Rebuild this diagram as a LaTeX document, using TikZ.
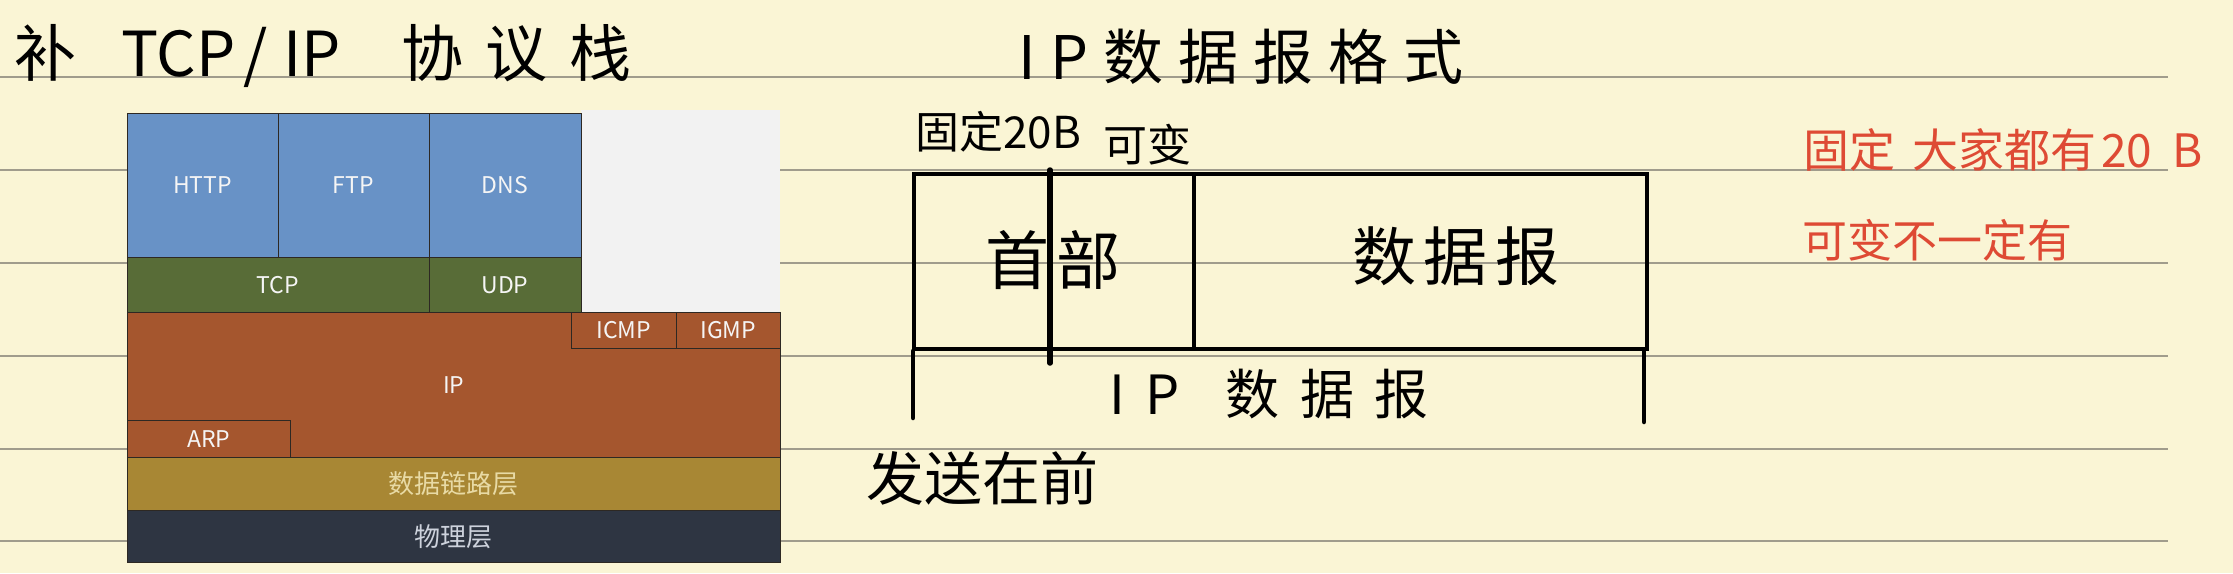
\documentclass[tikz,border=0pt]{standalone}
\usepackage{fontspec}
\setmainfont{Noto Sans CJK SC}
\definecolor{paper}{RGB}{250,245,213}
\definecolor{rule}{RGB}{160,156,140}
\definecolor{appblue}{RGB}{104,146,198}
\definecolor{tpgreen}{RGB}{88,108,55}
\definecolor{iporange}{RGB}{165,86,46}
\definecolor{dlgold}{RGB}{168,135,52}
\definecolor{phynavy}{RGB}{46,53,66}
\definecolor{blankgray}{RGB}{242,242,242}
\definecolor{inkred}{RGB}{222,74,52}
\definecolor{cellline}{RGB}{45,40,35}
\definecolor{dltext}{RGB}{232,218,165}
\definecolor{phytext}{RGB}{205,210,220}
\begin{document}
\begin{tikzpicture}[x=1pt,y=-1pt,
  hand/.style={inner sep=0pt, text=black},
  redhand/.style={inner sep=0pt, text=inkred, anchor=west},
  cell/.style={draw=cellline, line width=1pt, inner sep=0pt, anchor=north west, text=white!96!black, font=\fontsize{23}{23}\selectfont},
  cnlabel/.style={font=\fontsize{26}{26}\selectfont},
  pbox/.style={draw=black, line width=3.8pt, inner sep=0pt, anchor=north west, minimum height=175pt},
  penstroke/.style={line width=4.5pt, line cap=round},
  ruleline/.style={draw=rule, line width=2pt}]
\fill[paper] (0,0) rectangle (2233,573);
\useasboundingbox (0,0) rectangle (2233,573);
\foreach \yy in {76.7,170,263,355.5,448.5,541} \draw[ruleline] (0,\yy) -- (2168,\yy);

% ---- TCP/IP stack ----
\node[fill=blankgray, inner sep=0pt, anchor=north west, minimum width=199.5pt, minimum height=201.7pt] (blank) at (580.5,110) {};
\node[cell, fill=appblue, minimum width=151pt, minimum height=144.3pt] (http) at (126.5,112.7) {HTTP};
\node[cell, fill=appblue, minimum width=151pt, minimum height=144.3pt] (ftp) at (277.5,112.7) {FTP};
\node[cell, fill=appblue, minimum width=152pt, minimum height=144.3pt] (dns) at (428.5,112.7) {DNS};
\node[cell, fill=tpgreen, minimum width=302pt, minimum height=54.7pt] (tcp) at (126.5,257) {TCP};
\node[cell, fill=tpgreen, minimum width=152pt, minimum height=54.7pt] (udp) at (428.5,257) {UDP};
\node[cell, fill=iporange, minimum width=653.5pt, minimum height=145pt] (ip) at (126.5,311.7) {IP};
\node[cell, fill=iporange, minimum width=104.5pt, minimum height=36.3pt] (icmp) at (571,311.7) {ICMP};
\node[cell, fill=iporange, minimum width=104.5pt, minimum height=36.3pt] (igmp) at (675.5,311.7) {IGMP};
\node[cell, fill=iporange, minimum width=163.5pt, minimum height=36.7pt] (arp) at (126.5,420) {ARP};
\node[cell, cnlabel, fill=dlgold, text=dltext, minimum width=653.5pt, minimum height=53.3pt] (dl) at (126.5,456.7) {数据链路层};
\node[cell, cnlabel, fill=phynavy, text=phytext, minimum width=653.5pt, minimum height=52pt] (phy) at (126.5,510) {物理层};

% ---- handwritten titles ----
\node[hand, anchor=west, font=\fontsize{62}{62}\selectfont] (title) at (14,56) {补\hspace{45pt}TCP\hspace{8pt}/\hspace{16pt}IP\hspace{60pt}协\hspace{22pt}议\hspace{22pt}栈};
\node[hand, anchor=west, font=\fontsize{60}{60}\selectfont\addfontfeature{LetterSpace=25}] (fmt) at (1018,57) {IP数据报格式};

% ---- IP datagram ----
\node[hand, anchor=west, font=\fontsize{44}{44}\selectfont] (fixed) at (915,132) {固定20B};
\node[hand, anchor=west, font=\fontsize{44}{44}\selectfont] (var) at (1103,145) {可变};
\node[pbox, minimum width=280pt] (hdr) at (912,172) {};
\node[pbox, minimum width=453pt] (dat) at (1192,172) {};
\node[hand, font=\fontsize{64}{64}\selectfont\addfontfeature{LetterSpace=10}] (hdrtext) at (1053,260) {首部};
\node[hand, font=\fontsize{64}{64}\selectfont\addfontfeature{LetterSpace=12}] (dattext) at (1456,256) {数据报};
\coordinate (splittop) at (1050,170);
\coordinate (splitbot) at (1050,363);
\draw[penstroke, line width=5.5pt] (splittop) -- (splitbot);
\coordinate (ltickA) at (913,351);
\coordinate (ltickB) at (913,418);
\coordinate (rtickA) at (1644,351);
\coordinate (rtickB) at (1644,422);
\draw[penstroke] (ltickA) -- (ltickB);
\draw[penstroke] (rtickA) -- (rtickB);
\node[hand, anchor=west, font=\fontsize{54}{54}\selectfont\addfontfeature{LetterSpace=38}] (whole) at (1109,394) {IP\hspace{46pt}数据报};
\node[hand, anchor=west, font=\fontsize{58}{58}\selectfont] (sendfirst) at (866,478) {发送在前};

% ---- red notes ----
\node[redhand, font=\fontsize{46}{46}\selectfont] (note1) at (1803,150) {固定\hspace{17pt}大家都有\hspace{5pt}20\hspace{20pt}B};
\node[redhand, font=\fontsize{45}{45}\selectfont] (note2) at (1802,240) {可变不一定有};
\end{tikzpicture}
\end{document}
